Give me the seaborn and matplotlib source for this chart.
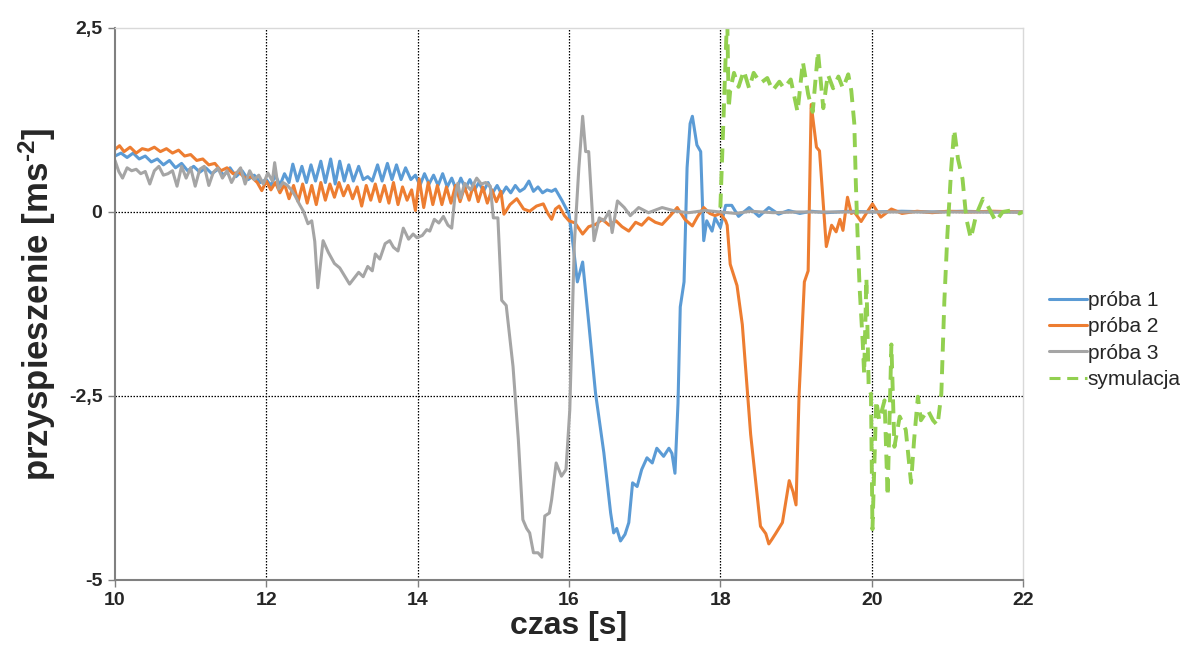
import pandas as pd
import matplotlib
matplotlib.use("Agg")
import matplotlib.pyplot as plt
import seaborn as sns

# próba 1
t1 = [10.00, 10.08, 10.16, 10.24, 10.32, 10.40, 10.48, 10.56, 10.64, 10.72, 10.80, 10.88, 10.96,
      11.04, 11.12, 11.20, 11.28, 11.36, 11.44, 11.52, 11.60, 11.68, 11.76, 11.84, 11.92, 12.00,
      12.06, 12.12, 12.18, 12.24, 12.30, 12.35, 12.41, 12.47, 12.53, 12.59, 12.65, 12.72, 12.78,
      12.85, 12.91, 12.97, 13.03, 13.09, 13.15, 13.22, 13.28, 13.34, 13.40, 13.47, 13.53, 13.60,
      13.66, 13.72, 13.78, 13.84, 13.91, 13.97, 14.03, 14.09, 14.15, 14.21, 14.27, 14.33, 14.39,
      14.45, 14.51, 14.57, 14.63, 14.69, 14.75, 14.81, 14.87, 14.93, 14.99, 15.05, 15.11, 15.17,
      15.23, 15.29, 15.35, 15.41, 15.47, 15.53, 15.59, 15.65, 15.71, 15.77, 15.82, 15.91, 16.00,
      16.06, 16.11, 16.18, 16.26, 16.35, 16.46, 16.55, 16.59, 16.63, 16.68, 16.74, 16.79, 16.84,
      16.90, 16.96, 17.03, 17.10, 17.16, 17.25, 17.32, 17.36, 17.40, 17.44, 17.47, 17.52, 17.56,
      17.60, 17.63, 17.69, 17.74, 17.78, 17.82, 17.89, 17.93, 18.00, 18.07, 18.15, 18.24, 18.38,
      18.51, 18.64, 18.77, 18.90, 19.05, 19.20, 19.40, 19.70, 20.00, 20.40, 20.80, 21.20, 21.60, 22.00]
a1 = [0.76, 0.80, 0.74, 0.80, 0.72, 0.76, 0.68, 0.72, 0.64, 0.70, 0.60, 0.66, 0.56,
      0.62, 0.54, 0.60, 0.52, 0.58, 0.50, 0.60, 0.48, 0.56, 0.44, 0.50, 0.40, 0.44,
      0.36, 0.50, 0.36, 0.52, 0.40, 0.65, 0.42, 0.62, 0.40, 0.64, 0.42, 0.69, 0.40,
      0.72, 0.38, 0.69, 0.42, 0.64, 0.42, 0.62, 0.44, 0.48, 0.42, 0.64, 0.42, 0.66,
      0.44, 0.64, 0.44, 0.60, 0.44, 0.50, 0.36, 0.52, 0.38, 0.50, 0.36, 0.52, 0.34,
      0.46, 0.30, 0.46, 0.32, 0.44, 0.30, 0.40, 0.28, 0.40, 0.26, 0.36, 0.24, 0.34,
      0.26, 0.36, 0.28, 0.32, 0.42, 0.28, 0.34, 0.26, 0.30, 0.28, 0.31, 0.15, -0.03,
      -0.50, -0.95, -0.68, -1.50, -2.46, -3.27, -4.09, -4.36, -4.30, -4.47, -4.38, -4.22, -3.68,
      -3.73, -3.50, -3.34, -3.41, -3.21, -3.32, -3.21, -3.28, -3.55, -2.60, -1.29, -0.95, 0.60,
      1.20, 1.30, 0.91, 0.82, -0.39, -0.12, -0.26, -0.08, -0.21, 0.09, 0.09, -0.06, 0.06,
      -0.06, 0.06, -0.03, 0.02, -0.02, 0.01, -0.01, 0.01, 0.00, 0.01, 0.00, 0.01, 0.00, 0.00]

# próba 2
t2 = [10.00, 10.06, 10.12, 10.20, 10.28, 10.36, 10.44, 10.52, 10.60, 10.68, 10.76, 10.84, 10.92,
      11.00, 11.08, 11.16, 11.24, 11.32, 11.40, 11.48, 11.56, 11.64, 11.72, 11.80, 11.88, 11.94,
      12.00, 12.06, 12.12, 12.18, 12.24, 12.30, 12.36, 12.42, 12.48, 12.54, 12.60, 12.66, 12.72,
      12.78, 12.84, 12.90, 12.96, 13.02, 13.08, 13.14, 13.20, 13.26, 13.32, 13.38, 13.44, 13.50,
      13.56, 13.62, 13.68, 13.74, 13.80, 13.86, 13.92, 13.97, 14.02, 14.08, 14.14, 14.20, 14.26,
      14.32, 14.38, 14.44, 14.50, 14.56, 14.62, 14.68, 14.74, 14.80, 14.86, 14.92, 14.98, 15.04,
      15.10, 15.14, 15.22, 15.31, 15.40, 15.48, 15.57, 15.66, 15.72, 15.77, 15.82, 15.87, 15.94,
      16.00, 16.08, 16.18, 16.26, 16.35, 16.44, 16.53, 16.62, 16.70, 16.79, 16.88, 16.96, 17.05,
      17.14, 17.23, 17.33, 17.43, 17.53, 17.63, 17.70, 17.78, 17.86, 17.93, 18.00, 18.07, 18.09,
      18.13, 18.22, 18.29, 18.36, 18.40, 18.47, 18.53, 18.60, 18.64, 18.68, 18.73, 18.82, 18.91,
      18.96, 19.00, 19.04, 19.11, 19.16, 19.20, 19.27, 19.31, 19.40, 19.47, 19.53, 19.58, 19.62,
      19.68, 19.73, 19.77, 19.86, 19.94, 20.01, 20.12, 20.26, 20.40, 20.60, 20.80, 21.00, 21.30,
      21.60, 22.00]
a2 = [0.85, 0.90, 0.82, 0.88, 0.80, 0.86, 0.84, 0.88, 0.82, 0.86, 0.80, 0.84, 0.76,
      0.78, 0.70, 0.72, 0.64, 0.66, 0.56, 0.60, 0.52, 0.54, 0.46, 0.48, 0.40, 0.29,
      0.42, 0.30, 0.40, 0.26, 0.38, 0.18, 0.36, 0.14, 0.38, 0.12, 0.36, 0.10, 0.40,
      0.16, 0.38, 0.20, 0.40, 0.22, 0.36, 0.18, 0.34, 0.08, 0.36, 0.16, 0.38, 0.14,
      0.36, 0.12, 0.40, 0.10, 0.34, 0.16, 0.30, 0.02, 0.45, 0.06, 0.40, 0.10, 0.36,
      0.10, 0.34, 0.12, 0.36, 0.14, 0.34, 0.16, 0.38, 0.14, 0.34, 0.12, 0.30, 0.14,
      0.28, -0.03, 0.10, 0.18, 0.04, 0.01, 0.08, 0.11, -0.02, -0.10, 0.04, 0.08, -0.05,
      -0.12, -0.15, -0.30, -0.20, -0.17, -0.10, -0.18, -0.12, -0.20, -0.26, -0.14, -0.18, -0.08,
      -0.14, -0.17, -0.06, 0.06, -0.10, -0.19, -0.06, 0.06, -0.02, -0.05, -0.02, -0.12, -0.18,
      -0.71, -1.00, -1.53, -2.49, -3.02, -3.69, -4.27, -4.37, -4.51, -4.45, -4.37, -4.22, -3.65,
      -3.80, -3.98, -2.49, -0.95, -0.80, 1.46, 0.88, 0.83, -0.47, -0.18, -0.27, -0.10, -0.25,
      0.20, -0.02, 0.00, -0.13, 0.00, 0.11, -0.07, 0.04, -0.02, 0.01, -0.01, 0.01, 0.00,
      0.01, 0.00]

# próba 3
t3 = [10.00, 10.05, 10.10, 10.16, 10.22, 10.28, 10.34, 10.40, 10.46, 10.52, 10.58, 10.64, 10.70,
      10.76, 10.82, 10.88, 10.94, 11.00, 11.06, 11.12, 11.18, 11.24, 11.30, 11.36, 11.42, 11.48,
      11.54, 11.60, 11.66, 11.72, 11.78, 11.84, 11.90, 11.96, 12.02, 12.08, 12.11, 12.16, 12.22,
      12.28, 12.33, 12.38, 12.44, 12.49, 12.55, 12.60, 12.64, 12.68, 12.75, 12.82, 12.90, 12.97,
      13.04, 13.10, 13.16, 13.22, 13.28, 13.34, 13.40, 13.44, 13.50, 13.57, 13.63, 13.68, 13.74,
      13.81, 13.88, 13.94, 13.99, 14.06, 14.12, 14.16, 14.22, 14.28, 14.34, 14.40, 14.45, 14.49,
      14.53, 14.57, 14.62, 14.70, 14.78, 14.84, 14.90, 14.96, 15.00, 15.06, 15.11, 15.17, 15.26,
      15.33, 15.39, 15.44, 15.48, 15.53, 15.59, 15.64, 15.68, 15.74, 15.77, 15.83, 15.90, 15.96,
      16.01, 16.07, 16.13, 16.18, 16.22, 16.26, 16.33, 16.40, 16.46, 16.53, 16.57, 16.64, 16.73,
      16.81, 16.92, 17.05, 17.23, 17.41, 17.58, 17.80, 18.00, 18.20, 18.40, 18.70, 19.00, 19.40,
      20.00, 20.60, 21.20, 22.00]
a3 = [0.70, 0.55, 0.46, 0.60, 0.56, 0.58, 0.52, 0.55, 0.38, 0.56, 0.62, 0.50, 0.52,
      0.56, 0.35, 0.62, 0.46, 0.60, 0.35, 0.58, 0.62, 0.36, 0.54, 0.60, 0.46, 0.56,
      0.40, 0.52, 0.60, 0.38, 0.56, 0.44, 0.50, 0.38, 0.53, 0.42, 0.67, 0.31, 0.40,
      0.36, 0.30, 0.22, 0.10, 0.01, -0.16, -0.12, -0.40, -1.03, -0.39, -0.55, -0.70, -0.76,
      -0.88, -0.98, -0.90, -0.82, -0.88, -0.74, -0.80, -0.57, -0.64, -0.43, -0.39, -0.48, -0.53,
      -0.22, -0.37, -0.30, -0.35, -0.32, -0.24, -0.26, -0.10, -0.15, -0.06, -0.18, -0.22, 0.19,
      0.39, 0.19, 0.39, 0.30, 0.46, 0.38, 0.40, 0.35, -0.08, -0.08, -1.20, -1.27, -2.10,
      -3.09, -4.18, -4.30, -4.36, -4.63, -4.63, -4.69, -4.13, -4.09, -3.91, -3.41, -3.59, -3.50,
      -2.69, -0.44, 0.60, 1.30, 0.82, 0.82, -0.39, -0.08, -0.12, 0.01, -0.28, 0.15, 0.06,
      -0.05, 0.06, -0.01, 0.06, 0.01, -0.01, 0.02, 0.00, -0.02, 0.01, -0.01, 0.00, 0.00,
      0.00, 0.00, 0.00, 0.00]

# symulacja
t4 = [18.00, 18.09, 18.11, 18.13, 18.18, 18.24, 18.31, 18.38, 18.44, 18.53, 18.62, 18.69, 18.78,
      18.84, 18.93, 19.02, 19.09, 19.16, 19.22, 19.29, 19.36, 19.42, 19.49, 19.56, 19.62, 19.69,
      19.73, 19.77, 19.79, 19.81, 19.84, 19.88, 19.90, 19.93, 19.96, 19.99, 20.01, 20.06, 20.10,
      20.17, 20.21, 20.26, 20.30, 20.37, 20.45, 20.52, 20.56, 20.61, 20.65, 20.74, 20.81, 20.87,
      20.92, 20.96, 21.00, 21.05, 21.09, 21.14, 21.20, 21.25, 21.31, 21.38, 21.47, 21.53, 21.64,
      21.73, 21.84, 21.95, 22.00]
a4 = [0.06, 2.70, 1.41, 1.65, 1.89, 1.70, 1.92, 1.68, 1.89, 1.75, 1.82, 1.65, 1.77,
      1.68, 1.80, 1.36, 2.04, 1.60, 1.36, 2.18, 1.41, 1.87, 1.68, 1.84, 1.68, 1.87,
      1.65, 1.20, 0.40, -0.22, -1.03, -1.75, -2.20, -0.90, -2.40, -2.47, -4.31, -2.56, -2.83,
      -2.56, -3.86, -1.80, -3.19, -2.78, -2.96, -3.68, -3.10, -2.51, -2.83, -2.69, -2.83, -2.90,
      -2.47, -1.21, -0.31, 0.58, 1.12, 0.72, 0.45, -0.09, -0.36, -0.04, 0.18, 0.09, -0.13,
      0.00, 0.02, -0.02, 0.00]

series_names = ["próba 1", "próba 2", "próba 3", "symulacja"]
series_colors = ["#5B9BD5", "#ED7D31", "#A5A5A5", "#92D050"]
x_ticks = [10, 12, 14, 16, 18, 20, 22]
y_ticks = [-5, -2.5, 0, 2.5]
y_tick_labels = ["-5", "-2,5", "0", "2,5"]

sns.set_theme(style="white")
plt.rcParams["font.family"] = ["Liberation Sans", "DejaVu Sans"]
plt.rcParams["mathtext.fontset"] = "custom"
plt.rcParams["mathtext.rm"] = "Liberation Sans:bold"
plt.rcParams["mathtext.bf"] = "Liberation Sans:bold"
plt.rcParams["mathtext.default"] = "rm"

fig, ax = plt.subplots(figsize=(11.83, 6.5), dpi=100)
fig.subplots_adjust(left=0.0972, right=0.8648, top=0.957, bottom=0.1077)

for tt, aa, name, col in zip([t1, t2, t3, t4], [a1, a2, a3, a4], series_names, series_colors):
    df = pd.DataFrame({"t": tt, "a": aa})
    if name == "symulacja":
        sns.lineplot(data=df, x="t", y="a", ax=ax, color=col, lw=2.8, label=name,
                     estimator=None, sort=False, linestyle=(0, (3.6, 2.2)))
    else:
        sns.lineplot(data=df, x="t", y="a", ax=ax, color=col, lw=2.2, label=name,
                     estimator=None, sort=False, solid_joinstyle="round")

ax.set_xlim(10, 22)
ax.set_ylim(-5, 2.5)
ax.set_xticks(x_ticks)
ax.set_yticks(y_ticks)
ax.set_yticklabels(y_tick_labels)

for xv in x_ticks[1:-1]:
    ax.axvline(xv, color="black", lw=0.9, ls=(0, (1.2, 1.2)), zorder=0)
for yv in [0, -2.5]:
    ax.axhline(yv, color="black", lw=0.9, ls=(0, (1.2, 1.2)), zorder=0)

for side in ["left", "bottom"]:
    ax.spines[side].set_color("#808080")
    ax.spines[side].set_linewidth(1.5)
for side in ["top", "right"]:
    ax.spines[side].set_color("#D9D9D9")
    ax.spines[side].set_linewidth(1.0)

ax.tick_params(axis="both", which="major", direction="out", length=5, width=1,
               color="#808080", labelsize=14, pad=4, bottom=True, left=True)
for lab in ax.get_xticklabels() + ax.get_yticklabels():
    lab.set_fontweight("bold")

ax.set_xlabel("czas [s]", fontsize=23, fontweight="bold", labelpad=1)
ax.set_ylabel(r"przyspieszenie [ms$^{\text{-2}}$]", fontsize=25, fontweight="bold", labelpad=8)

leg = ax.legend(loc="center left", bbox_to_anchor=(0.871, 0.477), bbox_transform=fig.transFigure,
                frameon=False, fontsize=15, handlelength=1.8, handletextpad=0.05,
                labelspacing=0.35)
for h in leg.get_lines():
    h.set_linewidth(2.2)

fig.savefig("out.png", dpi=100, facecolor="white")
